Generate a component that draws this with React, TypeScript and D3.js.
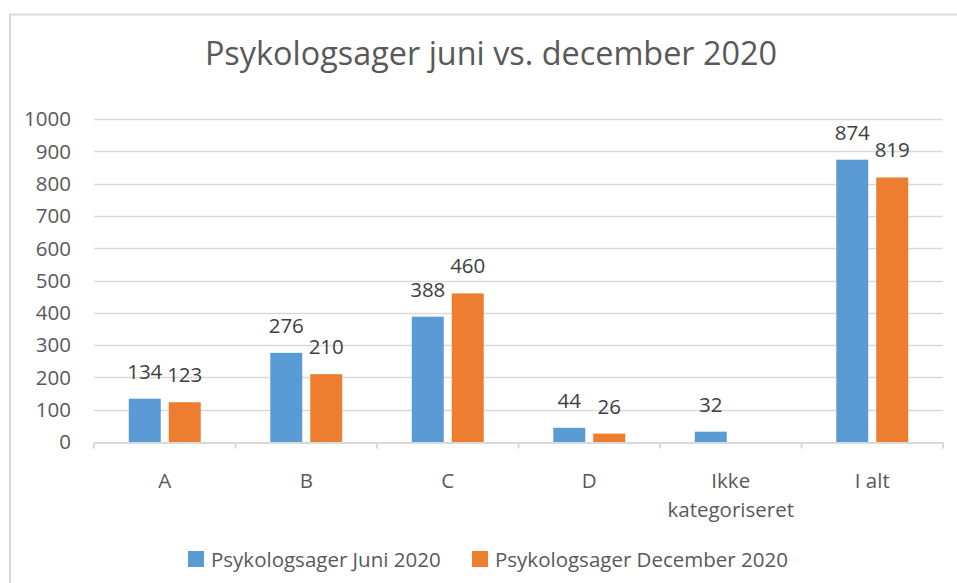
import React, { useEffect, useRef } from "react";
import * as d3 from "d3";

const categories = ["A", "B", "C", "D", "Ikke kategoriseret", "I alt"];
const seriesNames = ["Psykologsager Juni 2020", "Psykologsager December 2020"];
const juni = [134, 276, 388, 44, 32, 874];
const december: (number | null)[] = [123, 210, 460, 26, null, 819];
const yTicks = [0, 100, 200, 300, 400, 500, 600, 700, 800, 900, 1000];

const colors = ["#5B9BD5", "#ED7D31"];
const textColor = "#595959";
const font = "'Open Sans', sans-serif";
const fs = "20.5px";

const App = () => {
  const svgRef = useRef<SVGSVGElement>(null);

  const dims = {
    width: 957,
    height: 583,
    left: 94,
    right: 943,
    top: 119,
    bottom: 442,
  };

  useEffect(() => {
    const svg = d3.select(svgRef.current);
    svg.selectAll("*").remove();

    // chart border
    svg
      .append("rect")
      .attr("x", 10)
      .attr("y", 14.5)
      .attr("width", 960)
      .attr("height", 600)
      .attr("fill", "white")
      .attr("stroke", "#d9d9d9")
      .attr("stroke-width", 2);

    // title
    svg
      .append("text")
      .attr("x", 491)
      .attr("y", 65)
      .attr("text-anchor", "middle")
      .attr("fill", textColor)
      .style("font-family", font)
      .style("font-size", "32.4px")
      .text("Psykologsager juni vs. december 2020");

    const y = d3.scaleLinear().domain([0, 1000]).range([dims.bottom, dims.top]);
    const x0 = d3
      .scaleBand()
      .domain(categories)
      .range([dims.left, dims.right])
      .padding(0);
    const x1 = d3
      .scaleBand()
      .domain(seriesNames)
      .range([0, x0.bandwidth()])
      .paddingInner(0.2)
      .paddingOuter(0.87);

    // gridlines
    svg
      .append("g")
      .selectAll("line")
      .data(yTicks.filter((d) => d > 0))
      .enter()
      .append("line")
      .attr("x1", dims.left)
      .attr("x2", dims.right)
      .attr("y1", (d) => Math.round(y(d)) + 0.5)
      .attr("y2", (d) => Math.round(y(d)) + 0.5)
      .attr("stroke", "#d9d9d9")
      .attr("stroke-width", 1.5);

    // y labels
    svg
      .append("g")
      .selectAll("text")
      .data(yTicks)
      .enter()
      .append("text")
      .attr("x", 71)
      .attr("y", (d) => y(d))
      .attr("dy", "0.36em")
      .attr("text-anchor", "end")
      .attr("fill", textColor)
      .style("font-family", font)
      .style("font-size", fs)
      .text((d) => d);

    // x axis line + ticks between categories
    const xAxis = d3
      .axisBottom(x0)
      .tickValues([])
      .tickSizeOuter(0);
    const gx = svg
      .append("g")
      .attr("transform", `translate(0,${dims.bottom + 0.5})`)
      .call(xAxis);
    gx.select(".domain").attr("stroke", "#d9d9d9").attr("stroke-width", 2);
    const bounds = categories.map((c) => x0(c) as number).concat([dims.right]);
    gx.selectAll("line.sep")
      .data(bounds)
      .enter()
      .append("line")
      .attr("class", "sep")
      .attr("x1", (d) => d)
      .attr("x2", (d) => d)
      .attr("y1", 0)
      .attr("y2", 6)
      .attr("stroke", "#d9d9d9")
      .attr("stroke-width", 2);

    // category labels
    const catG = svg.append("g");
    categories.forEach((c) => {
      const words = c === "Ikke kategoriseret" ? ["Ikke", "kategoriseret"] : [c];
      const t = catG
        .append("text")
        .attr("x", (x0(c) as number) + x0.bandwidth() / 2)
        .attr("y", 488)
        .attr("text-anchor", "middle")
        .attr("fill", textColor)
        .style("font-family", font)
        .style("font-size", fs);
      words.forEach((w, i) => {
        t.append("tspan")
          .attr("x", (x0(c) as number) + x0.bandwidth() / 2)
          .attr("dy", i === 0 ? 0 : 29)
          .text(w);
      });
    });

    // bars + value labels
    const rows = categories.map((c, i) => ({
      cat: c,
      vals: [juni[i], december[i]],
    }));
    const groups = svg
      .append("g")
      .selectAll("g")
      .data(rows)
      .enter()
      .append("g")
      .attr("transform", (d) => `translate(${x0(d.cat)},0)`);

    const items = groups
      .selectAll("g.item")
      .data((d) =>
        d.vals
          .map((v, j) => ({ v, j }))
          .filter((e) => e.v !== null) as { v: number; j: number }[]
      )
      .enter()
      .append("g")
      .attr("class", "item");

    items
      .append("rect")
      .attr("x", (d) => x1(seriesNames[d.j]) as number)
      .attr("y", (d) => y(d.v))
      .attr("width", x1.bandwidth())
      .attr("height", (d) => dims.bottom - y(d.v))
      .attr("fill", (d) => colors[d.j]);

    items
      .append("text")
      .attr("x", (d) => (x1(seriesNames[d.j]) as number) + x1.bandwidth() / 2)
      .attr("y", (d) => y(d.v) - 20)
      .attr("text-anchor", "middle")
      .attr("fill", "#404040")
      .style("font-family", font)
      .style("font-size", fs)
      .text((d) => d.v);

    // legend
    const legendX = [188, 472];
    const lg = svg
      .append("g")
      .selectAll("g")
      .data(seriesNames)
      .enter()
      .append("g")
      .attr("transform", (_, i) => `translate(${legendX[i]},551)`);
    lg.append("rect")
      .attr("width", 16)
      .attr("height", 16)
      .attr("fill", (_, i) => colors[i]);
    lg.append("text")
      .attr("x", 23)
      .attr("y", 16)
      .attr("fill", textColor)
      .style("font-family", font)
      .style("font-size", fs)
      .text((d) => d);
  }, []);

  return (
    <svg
      ref={svgRef}
      width={dims.width}
      height={dims.height}
      style={{ position: "absolute", left: 0, top: 0, background: "white" }}
    ></svg>
  );
};

export default App;
